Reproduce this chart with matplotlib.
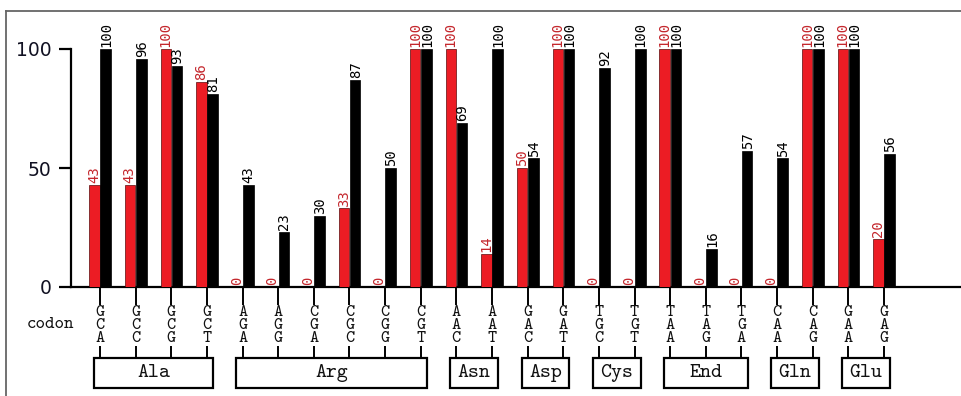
import numpy as np
import matplotlib
matplotlib.use("Agg")
import matplotlib.pyplot as plt
from matplotlib.patches import Rectangle
from matplotlib.lines import Line2D

# Codon usage data (%)
codons = ["GCA", "GCC", "GCG", "GCT",
          "AGA", "AGG", "CGA", "CGC", "CGG", "CGT",
          "AAC", "AAT", "GAC", "GAT", "TGC", "TGT",
          "TAA", "TAG", "TGA", "CAA", "CAG", "GAA", "GAG"]
amino_acids = ["Ala", "Arg", "Asn", "Asp", "Cys", "End", "Gln", "Glu"]
group_sizes = [4, 6, 2, 2, 2, 3, 2, 2]
red_values = [43, 43, 100, 86, 0, 0, 0, 33, 0, 100, 100, 14, 50, 100,
              0, 0, 100, 0, 0, 0, 100, 100, 20]
black_values = [100, 96, 93, 81, 43, 23, 30, 87, 50, 100, 69, 100, 54, 100,
                92, 100, 100, 16, 57, 54, 100, 100, 56]
y_ticks = [0, 50, 100]

# Layout (pixels)
W, H = 961, 396
X0_PX, STEP_PX = 100.0, 35.636
Y0_PX, PX_PER_UNIT = 287.0, 2.38
AX_LEFT_PX, AX_TOP_PX = 6.0, 11.0
SPINE_X_PX = 71.0


def ypix(p):
    """Data y for a pixel row."""
    return (Y0_PX - p) / PX_PER_UNIT


def xpix(p):
    """Data x for a pixel column."""
    return (p - X0_PX) / STEP_PX


fig = plt.figure(figsize=(W / 100, H / 100), dpi=100)
ax = fig.add_axes([AX_LEFT_PX / W, (H - Y0_PX) / H,
                   (W - AX_LEFT_PX) / W, (Y0_PX - AX_TOP_PX) / H])
ax.set_xlim(xpix(AX_LEFT_PX), xpix(W))
ax.set_ylim(0, ypix(AX_TOP_PX))

x = np.arange(len(codons))
red = "#ec1c24"
red_text = "#c4262c"
ax.bar(x - 0.155, red_values, width=0.29, color=red,
       edgecolor="#5a0a0a", linewidth=0.5, zorder=3)
ax.bar(x + 0.16, black_values, width=0.30, color="black",
       edgecolor="black", linewidth=0.5, zorder=3)

lab_font = dict(rotation=90, ha="center", va="bottom", fontsize=10,
                family="DejaVu Sans Mono")
for i, (r, b) in enumerate(zip(red_values, black_values)):
    ax.text(i - 0.165, r + 0.8, str(r), color=red_text, **lab_font)
    ax.text(i + 0.175, b + 0.8, str(b), color="black", **lab_font)

# Axes
for s in ("top", "right"):
    ax.spines[s].set_visible(False)
ax.spines["left"].set_position(("data", xpix(SPINE_X_PX)))
ax.spines["left"].set_bounds(0, 100)
ax.spines["bottom"].set_bounds(xpix(SPINE_X_PX), xpix(W))
for s in ("left", "bottom"):
    ax.spines[s].set_linewidth(1.6)
ax.set_yticks(y_ticks)
ax.set_yticklabels([str(t) for t in y_ticks])
ax.tick_params(axis="y", length=9, width=1.6, pad=5, labelsize=13.5,
               labelcolor="#111122")
ax.set_xticks([])

# Codon ticks and stacked letters (typewriter face)
mono = "cmtt10"
for i, cod in enumerate(codons):
    ax.plot([i, i], [ypix(Y0_PX), ypix(305)], color="black", lw=1.4,
            clip_on=False, solid_capstyle="butt")
    ax.plot([i, i], [ypix(346), ypix(359)], color="black", lw=1.4,
            clip_on=False, solid_capstyle="butt")
    ax.text(i, ypix(325.5), "\n".join(cod), ha="center", va="center",
            ma="center", linespacing=0.82, fontsize=12.5, family=mono,
            color="#111111", clip_on=False)

ax.text(xpix(51), ypix(324.5), "codon", ha="center", va="center",
        fontsize=13, family=mono, color="#111111", clip_on=False)

# Amino-acid group boxes
start = 0
pad = 0.17
for name, n in zip(amino_acids, group_sizes):
    end = start + n - 1
    ax.add_patch(Rectangle((start - pad, ypix(388)), (end - start) + 2 * pad,
                           ypix(358) - ypix(388), fill=False,
                           edgecolor="black", lw=1.6, clip_on=False))
    ax.text((start + end) / 2, ypix(373), name, ha="center", va="center",
            fontsize=15, family=mono, color="#111111", clip_on=False)
    start = end + 1

# Outer frame
frame_kw = dict(transform=fig.transFigure, color="#666666", lw=1.3)
fig.add_artist(Line2D([AX_LEFT_PX / W, 1], [1 - AX_TOP_PX / H] * 2, **frame_kw))
fig.add_artist(Line2D([AX_LEFT_PX / W] * 2, [0, 1 - AX_TOP_PX / H], **frame_kw))

fig.savefig("out.png", dpi=100, facecolor="white")
